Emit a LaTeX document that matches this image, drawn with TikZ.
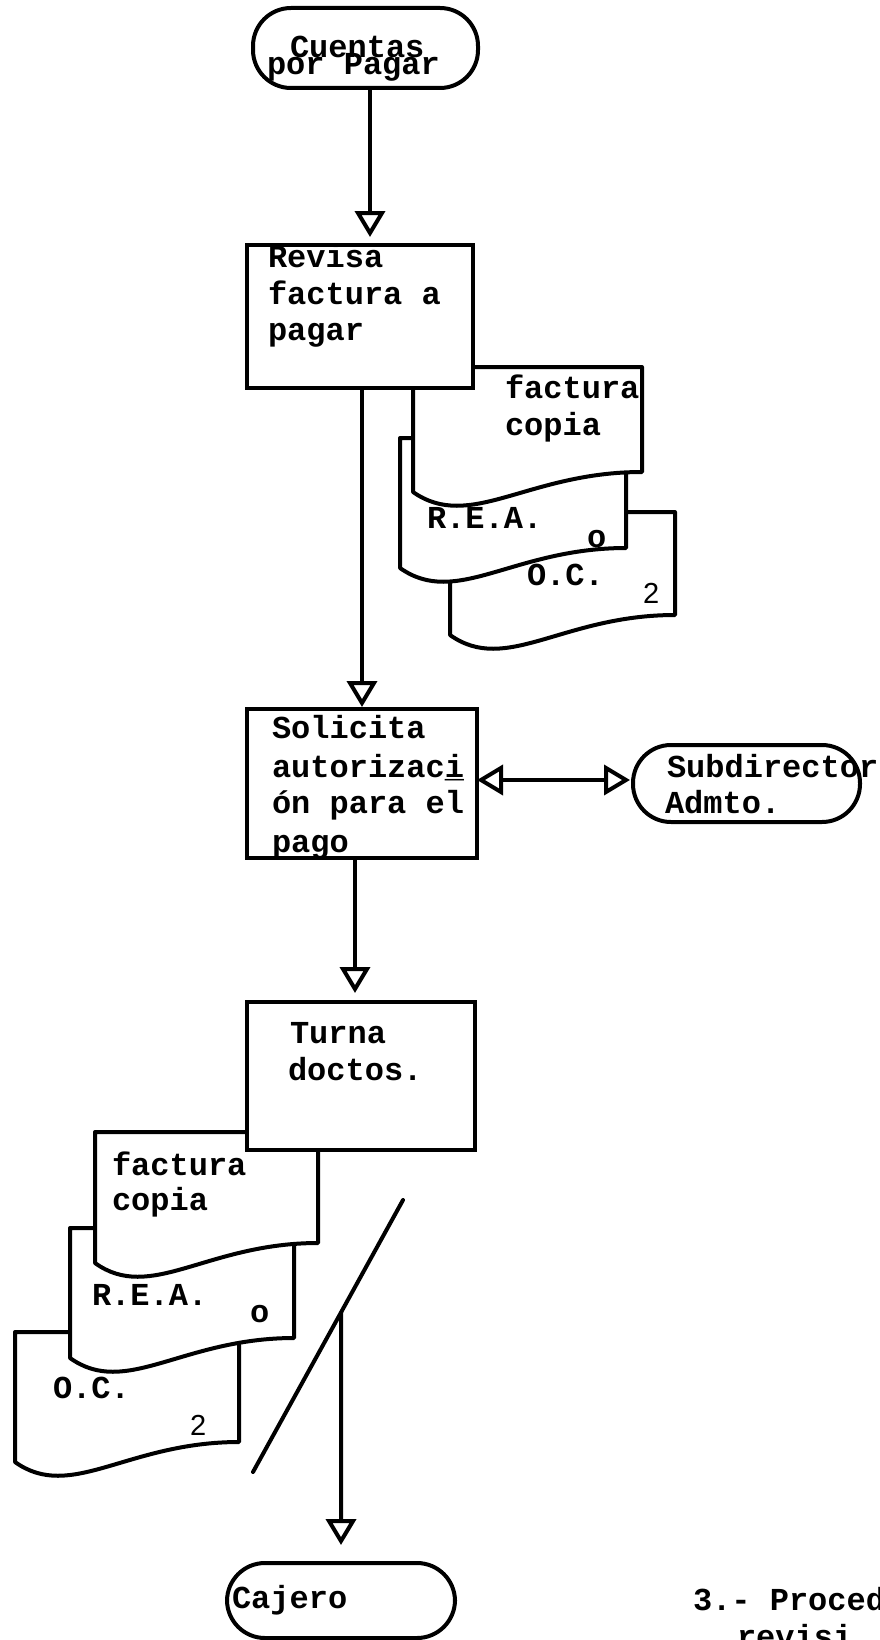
\documentclass[tikz,border=0pt]{standalone}
\usepackage{fontspec}
\setmonofont{Liberation Mono}
\newfontfamily\digitfont{Liberation Sans}
\usetikzlibrary{arrows.meta}
\newcommand{\docsym}[4]{%
  \path[docpath] (#1,#2) -- (#3,#2) -- (#3,#4)
    .. controls ({(#1+#3)/2},#4) and ({#1+0.25*(#3-#1)},{#4+60}) .. (#1,{#4+20}) -- cycle;}
\begin{document}
\begin{tikzpicture}[x=1pt,y=-1pt,
  every node/.style={inner sep=0pt, outer sep=0pt},
  txt/.style={anchor=base west, font=\ttfamily\bfseries\fontsize{32}{37}\selectfont},
  num/.style={anchor=base west, font=\digitfont\fontsize{29}{32}\selectfont},
  procbox/.style={draw, line width=4.4pt, fill=white, rectangle},
  term/.style={draw, line width=4pt, fill=white, rectangle, rounded corners=38pt},
  docpath/.style={draw, line width=4pt, fill=white, line join=round},
  flow/.style={line width=4pt, -{Triangle[open,length=26pt,width=30pt]}},
  both/.style={line width=4pt, {Triangle[open,length=26pt,width=30pt]}-{Triangle[open,length=26pt,width=30pt]}},
]
\useasboundingbox[fill=white] (0,0) rectangle (880,1640);

% start terminal
\node[term, minimum width=225pt, minimum height=80pt] (cuentas) at (365.5,48) {};
\node[txt] (t1a) at (290,58) {Cuentas};
\node[txt] (t1b) at (267,75) {por Pagar};

% upper document stack (back to front)
\docsym{450}{512}{675}{615}
\node[txt] (oc1) at (527,585) {O.C.};
\node[num] (oc1n) at (643,603) {2};
\docsym{400}{438}{626}{548}
\node[txt] (rea1) at (427,528) {R.E.A.};
\node[txt] (rea1o) at (587,547) {o};
\docsym{413}{367}{642}{472}
\node[txt] (fac1a) at (505,398) {factura};
\node[txt] (fac1b) at (505,435) {copia};

% Revisa box
\node[procbox, minimum width=226pt, minimum height=143pt] (revisa) at (360,316.5) {};
\node[txt] (r1) at (268,267) {Revisa};
\node[txt] (r2) at (268,304) {factura a};
\node[txt] (r3) at (268,340) {pagar};

% Solicita box
\node[procbox, minimum width=230pt, minimum height=149pt] (solicita) at (362,783.5) {};
\node[txt] (s1) at (272,738) {Solicita};
\node[txt] (s2) at (272,777) {autorizac\rlap{\_}i};
\node[txt] (s3) at (272,813) {ón para el};
\node[txt] (s4) at (272,852) {pago};

% Subdirector terminal
\node[term, minimum width=227pt, minimum height=77pt] (subdir) at (746.5,783.5) {};
\node[txt] (sd1) at (667,777) {Subdirector};
\node[txt] (sd2) at (665,813) {Admto.};

% lower document stack (back to front)
\docsym{15}{1332}{239}{1442}
\node[txt] (oc2) at (53,1398) {O.C.};
\node[num] (oc2n) at (190,1435) {2};
\docsym{70}{1228}{294}{1338}
\node[txt] (rea2) at (92,1305) {R.E.A.};
\node[txt] (rea2o) at (250,1322) {o};
\docsym{95}{1132}{318}{1243}
\node[txt] (fac2a) at (112,1175) {factura};
\node[txt] (fac2b) at (112,1210) {copia};

% Turna box
\node[procbox, minimum width=228pt, minimum height=148pt] (turna) at (361,1076) {};
\node[txt] (tu1) at (290,1043) {Turna};
\node[txt] (tu2) at (288,1080) {doctos.};

% Cajero terminal
\node[term, minimum width=228pt, minimum height=75pt] (cajero) at (341,1600.5) {};
\node[txt] (cj) at (232,1608) {Cajero};

% caption (cut at the page edge, as in the reference)
\node[txt] (cap1) at (693,1610) {3.- Proced};
\node[txt] (cap2) at (737,1647) {revisi};

% connectors
\draw[flow] ([xshift=4.5pt]cuentas.south) -- ([xshift=10pt,yshift=8pt]revisa.north);
\draw[flow] ([xshift=2pt]revisa.south) -- ([yshift=2pt]solicita.north);
\draw[both] ([yshift=3.5pt]solicita.east) -- ([xshift=-3pt,yshift=3.5pt]subdir.west);
\draw[flow] ([xshift=-7pt]solicita.south) -- ([xshift=-6pt,yshift=9pt]turna.north);
\draw[line width=4pt, line cap=round] (403,1200) coordinate (st) -- coordinate[pos=0.413] (sx) (253,1472) coordinate (sb);
\draw[flow] (sx) -- ([yshift=18pt]cajero.north);
\end{tikzpicture}
\end{document}
